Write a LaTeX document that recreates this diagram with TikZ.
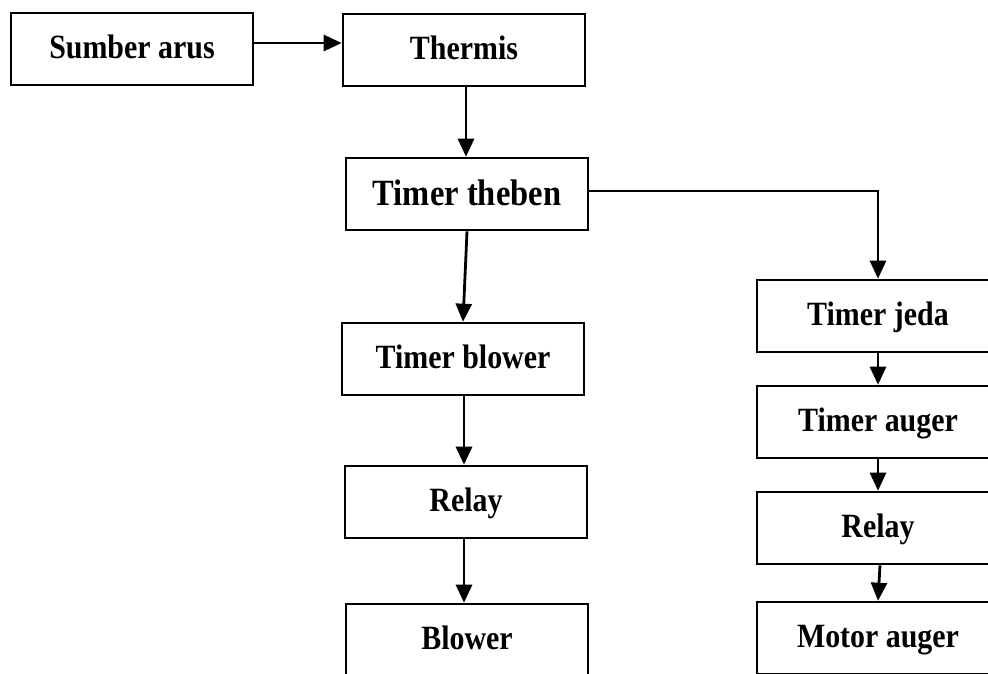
\documentclass[tikz,border=0pt]{standalone}
\usepackage{fontspec}
\setmainfont{Liberation Serif}[FakeStretch=0.88]
\usetikzlibrary{arrows.meta}
\begin{document}
\begin{tikzpicture}[x=1pt,y=-1pt,
  blk/.style={draw=black, line width=2.6pt, fill=white, rectangle, inner sep=0pt,
    minimum width=242pt, text height=45pt, text depth=27pt,
    font=\fontsize{34pt}{40pt}\selectfont\bfseries},
  bigblk/.style={blk, text height=47pt, text depth=25pt,
    font=\fontsize{37pt}{44pt}\selectfont\bfseries},
  arr/.style={line width=2.8pt, -{Triangle[length=18pt,width=16pt]}}]
\useasboundingbox (0,0) rectangle (988,673);
\fill[white] (0,0) rectangle (988,673);
\clip (0,0) rectangle (988,673);
\node[blk] (sumber) at (132,49) {Sumber arus};
\node[blk] (thermis) at (464,50) {Thermis};
\node[bigblk] (theben) at (467,194) {Timer theben};
\node[blk] (tblower) at (463,359) {Timer blower};
\node[blk] (relayL) at (466,502) {Relay};
\node[blk] (blower) at (467,640) {Blower};
\node[blk] (tjeda) at (878,316) {Timer jeda};
\node[blk] (tauger) at (878,422) {Timer auger};
\node[blk] (relayR) at (878,528) {Relay};
\node[blk] (motor) at (878,638) {Motor auger};
\draw[arr] ([yshift=6pt]sumber.east) -- ([yshift=6pt]sumber.east -| thermis.west);
\draw[arr] ([xshift=2pt]thermis.south) -- ([xshift=2pt]thermis.south |- theben.north);
\draw[arr] (theben.south) -- (tblower.north);
\draw[arr] ([yshift=3pt]theben.east) -| (tjeda.north);
\draw[arr] ([xshift=1pt]tblower.south) -- ([xshift=1pt]tblower.south |- relayL.north);
\draw[arr] ([xshift=-2pt]relayL.south) -- ([xshift=-2pt]relayL.south |- blower.north);
\draw[arr] (tjeda.south) -- (tauger.north);
\draw[arr] (tauger.south) -- (relayR.north);
\draw[arr] ([xshift=2pt]relayR.south) -- (motor.north);
\end{tikzpicture}
\end{document}
